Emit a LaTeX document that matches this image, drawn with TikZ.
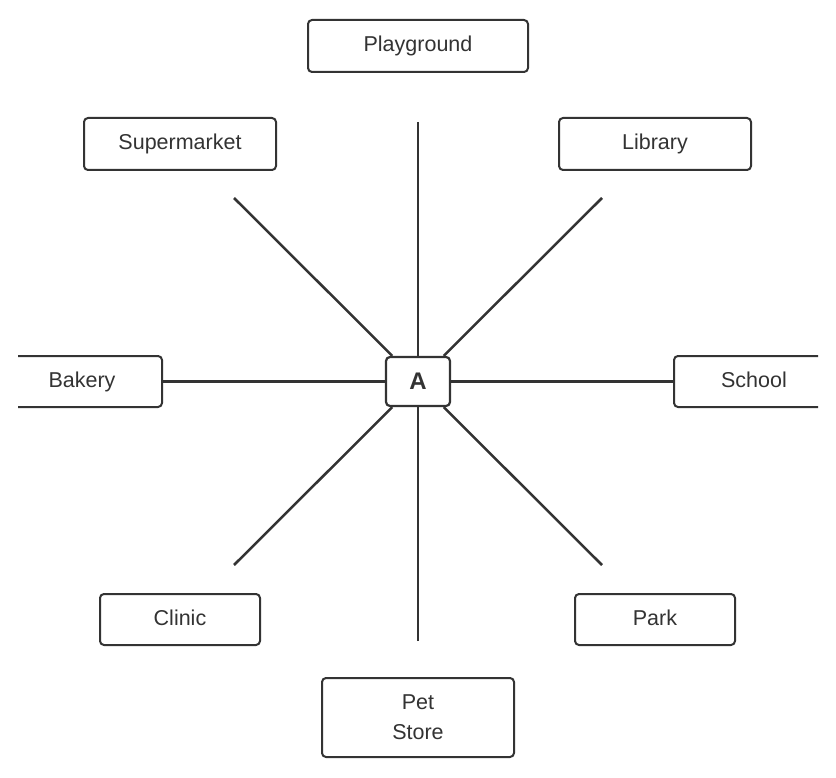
\documentclass[tikz,border=0pt]{standalone}
\usepackage{fontspec}
\setmainfont{Liberation Sans}
\definecolor{ink}{HTML}{333333}
\begin{document}
\begin{tikzpicture}[x=1pt,y=-1pt,
  place/.style={draw=ink,line width=2pt,rounded corners=4pt,fill=white,inner sep=0pt,
    text=ink,font=\fontsize{21.5}{30}\selectfont,align=center},
  oneline/.style={text height=15.5pt,text depth=4.5pt},
  hub/.style={draw=ink,line width=2.2pt,rounded corners=4pt,fill=white,inner sep=0pt,
    minimum width=64pt,minimum height=49pt,text=ink,font=\fontsize{24}{28}\selectfont\bfseries},
  spoke/.style={draw=ink,line width=2.5pt}]
\useasboundingbox (0,0) rectangle (836,778);
\clip (18,0) rectangle (818,778);
\node[hub] (A) at (418,381.5) {A};
\coordinate (nN) at (418,122);
\coordinate (nS) at (418,641);
\coordinate (nNW) at (234,198);
\coordinate (nNE) at (602,198);
\coordinate (nSW) at (234,565);
\coordinate (nSE) at (602,565);
\node[place,oneline,minimum width=220pt,minimum height=52pt] (play) at (418,46) {Playground};
\node[place,oneline,minimum width=192pt,minimum height=52pt] (super) at (180,144) {Supermarket};
\node[place,oneline,minimum width=192pt,minimum height=52pt] (lib) at (655,144) {Library};
\node[place,oneline,minimum width=160pt,minimum height=51pt] (bak) at (82,381.5) {Bakery};
\node[place,oneline,minimum width=160pt,minimum height=51pt] (sch) at (754,381.5) {School};
\node[place,oneline,minimum width=160pt,minimum height=51pt] (cli) at (180,619.5) {Clinic};
\node[place,oneline,minimum width=160pt,minimum height=51pt] (park) at (655,619.5) {Park};
\node[place,minimum width=192pt,minimum height=79pt] (pet) at (418,717.5) {Pet\\Store};
\draw[spoke] (nN) -- (A);
\draw[spoke] (nS) -- (A);
\draw[spoke] (nNW) -- (A);
\draw[spoke] (nNE) -- (A);
\draw[spoke] (nSW) -- (A);
\draw[spoke] (nSE) -- (A);
\draw[spoke] (bak) -- (A);
\draw[spoke] (sch) -- (A);
\end{tikzpicture}
\end{document}
